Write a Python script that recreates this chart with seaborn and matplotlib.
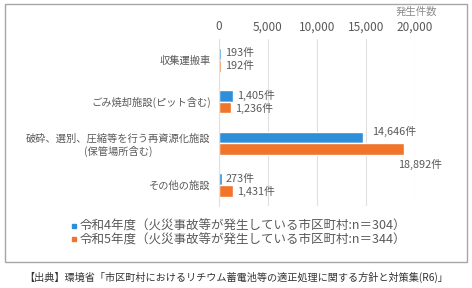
import matplotlib
matplotlib.use("Agg")
import matplotlib.pyplot as plt
from matplotlib.patches import Rectangle
from matplotlib.lines import Line2D
import seaborn as sns
import pandas as pd

categories = ["収集運搬車", "ごみ焼却施設(ピット含む)", "破砕、選別、圧縮等を行う再資源化施設\n(保管場所含む)", "その他の施設"]
r4_values = [193, 1405, 14646, 273]
r5_values = [192, 1236, 18892, 1431]
series_names = ["令和4年度（火災事故等が発生している市区町村:n＝304）",
                "令和5年度（火災事故等が発生している市区町村:n＝344）"]
x_ticks = [0, 5000, 10000, 15000, 20000]
x_tick_labels = ["0", "5,000", "10,000", "15,000", "20,000"]
axis_title = "発生件数"
caption = "【出典】環境省「市区町村におけるリチウム蓄電池等の適正処理に関する方針と対策集(R6)」"

sns.set_theme(style="white")
plt.rcParams['font.family'] = ['Noto Sans CJK JP', 'DejaVu Sans']

colors = ["#2e8fd8", "#f0752a"]
text_col = "#595959"

df = pd.DataFrame({
    "category": categories * 2,
    "value": r4_values + r5_values,
    "series": [series_names[0]] * 4 + [series_names[1]] * 4,
})

fig = plt.figure(figsize=(4.72, 2.88), dpi=100)
ax = fig.add_axes([219/472, 1-206/288, (415-219)/472, (206-39)/288])

sns.barplot(data=df, x="value", y="category", hue="series", orient="h",
            palette=colors, width=0.56, ax=ax, legend=False, saturation=1)

ax.set_xlim(0, 20000)
ax.set_xticks(x_ticks)
ax.set_xticklabels(x_tick_labels)
ax.xaxis.tick_top()
ax.tick_params(axis='x', length=0, pad=4, labelsize=8.5, labelcolor=text_col)
ax.tick_params(axis='y', length=0, pad=6, labelsize=7.4, labelcolor=text_col)
for lbl in ax.get_yticklabels():
    lbl.set_horizontalalignment('right')
    lbl.set_multialignment('center')
ax.set_xlabel("")
ax.set_ylabel("")
ax.grid(axis='x', color="#e0e0e0", linewidth=0.8)
ax.set_axisbelow(True)
for s in ["top", "right", "bottom"]:
    ax.spines[s].set_visible(False)
ax.spines["left"].set_color("#e0e0e0")
ax.spines["left"].set_linewidth(0.8)

# bar labels (offsets in points)
offsets = [
    [(3, 0.5), (3, 0.5), (7, 4.5), (3, 0.5)],
    [(3, -0.5), (3, -0.5), (-4.3, -11), (3, -0.5)],
]
for si, cont in enumerate(ax.containers):
    for bi, bar in enumerate(cont):
        w = bar.get_width()
        yc = bar.get_y() + bar.get_height() / 2
        dx, dy = offsets[si][bi]
        ax.annotate(f"{int(w):,}件", xy=(w, yc), xytext=(dx, dy),
                    textcoords="offset points", ha="left", va="center",
                    fontsize=7.8, color=text_col, annotation_clip=False)

fig.text(437/472, 1-12/288, axis_title, ha="right", va="center",
         fontsize=7.5, color="#8c8c8c")

handles = [Line2D([0], [0], marker='s', linestyle='none', markersize=3.5,
                  markerfacecolor=c, markeredgecolor=c) for c in colors]
fig.legend(handles, series_names, loc="upper left",
           bbox_to_anchor=(70/472, 1-220/288), frameon=False,
           fontsize=9.0, labelcolor=text_col, handlelength=0.6,
           handletextpad=0.2, labelspacing=0.05, borderpad=0, borderaxespad=0)

fig.patches.append(Rectangle((5/472, 1-262/288), 462/472, 258/288,
                             transform=fig.transFigure, fill=False,
                             edgecolor="#a6a6a6", linewidth=1))

fig.text(236/472, 1-277/288, caption, ha="center", va="center",
         fontsize=7.3, color="#333333")

fig.savefig("out.png", dpi=100)
